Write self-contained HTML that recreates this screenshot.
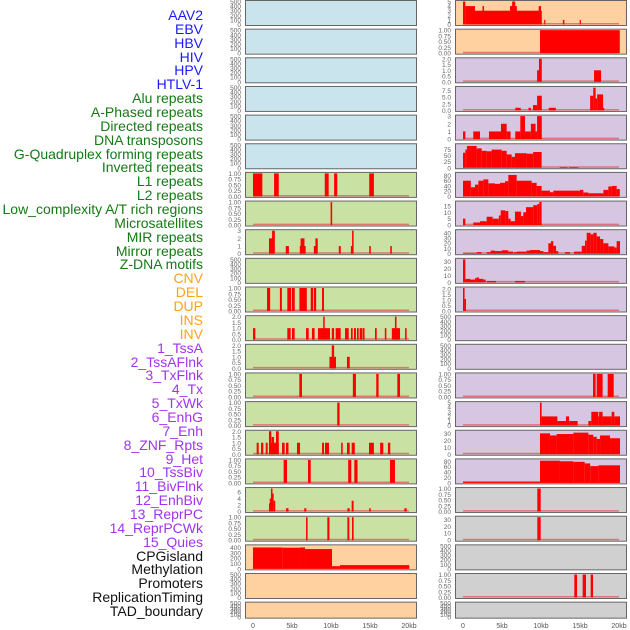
<!DOCTYPE html>
<html><head><meta charset="utf-8">
<style>
html,body{margin:0;padding:0;background:#fff;}
#wrap{position:relative;width:630px;height:630px;overflow:hidden;font-family:"Liberation Sans",sans-serif;}
.lbl{position:absolute;right:427px;font-size:14px;line-height:14px;white-space:nowrap;}
svg{position:absolute;left:0;top:0;}
</style></head>
<body>
<div id="wrap">
<div id="labels"></div>
<svg id="chart" width="630" height="630"></svg>
</div>
<script>
const trackNames = ["AAV2","EBV","HBV","HIV","HPV","HTLV-1","Alu repeats","A-Phased repeats","Directed repeats","DNA transposons","G-Quadruplex forming repeats","Inverted repeats","L1 repeats","L2 repeats","Low_complexity A/T rich regions","Microsatellites","MIR repeats","Mirror repeats","Z-DNA motifs","CNV","DEL","DUP","INS","INV","1_TssA","2_TssAFlnk","3_TxFlnk","4_Tx","5_TxWk","6_EnhG","7_Enh","8_ZNF_Rpts","9_Het","10_TssBiv","11_BivFlnk","12_EnhBiv","13_ReprPC","14_ReprPCWk","15_Quies","CPGisland","Methylation","Promoters","ReplicationTiming","TAD_boundary"];
const trackGroupSizes = [6,13,5,15,5];
const groupColors = ["#1a1aff","#147a14","#ffa21a","#a033f0","#111111"];

const xTicks = [0,5,10,15,20];
const xTickLabels = ["0","5kb","10kb","15kb","20kb"];

const tEmpty = [0,100,200,300,400,500];
const tUnit = [0,0.25,0.5,0.75,1];
const tTwo = [0,0.5,1,1.5,2];

// Left column bars [startKb, endKb, value]
const barsL6 = [[0,1.2,1],[2.7,3.3,1],[9.2,9.7,1],[10.4,10.8,1],[14.9,15.5,1]];
const barsL7 = [[9.95,10.15,1]];
const barsL8 = [[2.05,2.5,2],[2.45,2.8,3],[4.2,4.6,1],[6.0,6.3,1],[6.1,6.6,2],[6.6,6.75,1],[7.8,8.1,1],[8.0,8.3,2],[11.0,11.25,1],[12.55,12.75,1],[12.7,12.9,3],[14.9,15.1,1],[17.6,17.8,1]];
const barsL10 = [[1.8,2.2,1],[3.45,3.7,1],[4.4,4.9,1],[5.0,5.35,1],[5.95,6.9,1],[7.4,7.7,1],[7.8,8.1,1],[8.85,9.1,1]];
const barsL11 = [[0,0.3,1],[4.4,4.83,1],[5.0,5.34,1],[6.8,7.14,1],[7.56,7.9,1],[8.33,9.87,1],[9.0,9.19,2],[10.1,10.4,1],[10.6,11.24,1],[11.8,12.27,1],[12.56,12.78,1],[12.95,13.2,1],[13.33,13.55,1],[13.68,14.0,1],[14.06,14.3,1],[15.64,15.86,1],[16.9,17.1,1],[17.8,18.85,1],[18.2,18.4,2],[19.5,19.7,1]];
const barsL12 = [[9.8,10.64,1],[10.1,10.4,2],[12.05,12.4,1]];
const barsL13 = [[5.94,6.28,1],[12.8,13.2,1],[15.8,16.1,1],[18.5,18.85,1]];
const barsL14 = [[10.8,11.1,1]];
const barsL15 = [[0.47,0.73,1],[1.03,1.32,1],[1.63,1.88,1],[2.05,3.3,1],[2.05,2.35,2],[2.39,2.69,1.5],[2.95,3.3,2],[3.72,4.06,1],[4.23,4.55,1],[5.64,6.03,1],[8.85,9.1,1],[9.23,9.74,1],[11.3,11.5,1],[12.05,12.4,1],[12.65,13.05,1],[14.87,15.5,1],[16.3,16.7,1],[17.3,17.6,1]];
const barsL16 = [[3.93,4.36,1],[7.05,7.4,1],[12.2,12.6,1],[12.99,13.4,1],[17.56,18.2,1]];
const barsL17 = [[2.05,2.2,2.5],[2.15,2.3,4],[2.3,2.5,7],[2.45,2.65,5.5],[2.65,2.85,3.3],[4.23,4.55,1],[6.57,6.84,1],[12.1,12.4,1],[12.65,12.9,3.3],[14.9,15.1,1],[19.4,19.7,1]];
const barsL18 = [[6.8,7.0,1],[9.53,9.8,1],[12.1,12.35,1],[12.69,12.9,1]];
const barsL19 = [[0,3.8,400],[3.8,6.03,395],[6.03,6.67,400],[6.67,10.13,370],[10.13,11.15,50],[11.15,20.04,70]];

// Right column bars
const barsR0 = [[0,0.3,5],[0.3,1.54,4],[1.54,10.1,3],[2.5,2.7,4],[6.03,6.9,4],[6.3,6.7,5],[9.7,10.0,4],[10.4,10.55,1],[12.8,13.0,1],[14.96,15.1,1]];
const barsR1 = [[9.87,20.1,1]];
const barsR2 = [[9.5,9.74,1],[9.74,10.1,2],[16.8,17.7,1]];
const barsR3 = [[6.7,7.4,1],[8.4,8.7,1],[8.97,9.5,2],[9.5,10.1,5.5],[11.0,11.9,1],[16.3,16.7,5.5],[16.7,17.0,8.5],[17.0,17.2,4.5],[17.2,17.96,6],[17.96,18.1,1]];
const barsR4 = [[0,0.3,1],[1.32,2.18,1],[3.33,4.87,1],[4.87,5.6,2],[5.6,6.1,1],[6.7,7.35,1],[7.35,7.95,3],[7.95,8.7,1],[8.7,9.3,2],[9.3,9.5,1],[9.5,10.1,3]];
const barsR5 = [[0,0.3,62],[0.3,0.5,75],[0.5,1.75,90],[1.75,2.4,80],[2.4,3.03,70],[3.03,3.67,68],[3.67,4.96,75],[4.96,5.6,70],[5.6,6.24,55],[6.24,6.66,45],[6.66,8.16,60],[8.16,9.0,58],[9.0,10.08,65],[12.4,13.4,3],[13.6,14.8,3]];
const barsR6 = [[0,1.0,60],[1.0,1.54,35],[1.54,1.97,45],[1.97,2.6,60],[2.6,3.25,65],[3.25,4.1,50],[4.1,4.74,48],[4.74,5.38,52],[5.38,5.81,58],[5.81,6.88,82],[6.88,8.8,60],[8.8,9.44,52],[9.44,10.08,40],[10.08,11.15,22],[11.15,11.58,16],[11.58,15.0,22],[15.0,15.43,25],[15.43,16.07,15],[16.07,18.0,12],[18.0,18.63,25],[18.63,19.06,38],[19.06,19.7,40],[19.7,20.1,28]];
const barsR7 = [[0,0.3,5],[1.32,2.18,2],[2.18,3.03,3],[3.03,3.8,6.5],[3.8,4.6,5],[4.6,4.83,7.5],[4.83,5.43,11.5],[5.43,5.81,11],[5.81,6.1,5],[6.1,6.66,3],[6.66,7.43,10.5],[7.43,7.73,7],[7.73,8.08,10],[8.08,9.0,14],[9.0,9.53,15.5],[9.53,9.79,16.5],[9.79,10.08,18]];
const barsR8 = [[0,1.75,1],[1.75,2.39,3],[3.04,3.55,3],[3.55,4.1,6],[4.1,4.96,5],[4.96,5.81,6.5],[5.81,6.45,4],[6.54,6.88,3],[6.88,8.16,4],[8.16,8.59,6],[8.59,9.87,7],[9.87,10.3,5],[10.3,10.94,3],[10.94,11.28,20],[11.28,11.58,24],[11.58,11.93,15],[11.93,12.22,5],[13.08,13.72,3],[14.23,15.22,4],[15.22,15.64,15],[15.64,15.86,25],[15.86,16.37,40],[16.37,16.71,37],[16.71,17.14,40],[17.14,17.57,33],[17.57,17.99,28],[17.99,18.64,20],[18.64,19.4,14],[19.4,19.7,12],[19.7,20.13,24]];
const barsR9 = [[0,0.3,33],[0.3,0.9,5],[0.9,1.54,4],[1.54,1.75,6],[1.75,2.05,7],[2.05,2.6,5],[2.6,2.9,4],[3.04,4.23,2],[6.67,7.95,2]];
const barsR10 = [[0,0.2,2.1],[0.2,0.38,1.1]];
const barsR13 = [[16.67,17.0,1],[17.14,17.9,1],[18.55,19.32,1]];
const barsR14 = [[9.87,10.08,5],[10.08,12.1,2],[12.1,13.2,1],[13.2,13.6,2],[13.6,14.7,1],[16.07,16.45,1],[16.45,17.35,3],[17.35,17.9,2],[17.45,17.9,3],[17.9,19.06,2],[19.06,19.4,3],[19.4,20.13,2]];
const barsR15 = [[9.87,11.15,30],[11.15,12.0,27],[12.0,14.15,29],[14.15,16.07,31],[16.07,16.7,28],[16.7,17.14,25],[17.14,17.57,22],[17.57,18.85,27],[18.85,20.13,23]];
const barsR16 = [[0,9.87,5],[9.87,12.43,82],[12.43,14.15,80],[14.15,15.6,78],[15.6,16.3,72],[16.3,17.35,62],[17.35,20.13,65]];
const barsR17 = [[9.53,9.96,1]];
const barsR18 = [[9.53,9.96,33]];
const barsR20 = [[14.27,14.62,1],[15.34,15.77,1],[16.37,16.67,1]];

const C = {blue:"#c9e4ec",green:"#c9e1a3",orange:"#ffd1a1",purple:"#d6c6e1",grey:"#d0d0d0"};
// [bg, maxValue, ticks, decimals, bars]
const leftPanels = [
 [C.blue,500,tEmpty,0,[]],[C.blue,500,tEmpty,0,[]],[C.blue,500,tEmpty,0,[]],[C.blue,500,tEmpty,0,[]],[C.blue,500,tEmpty,0,[]],[C.blue,500,tEmpty,0,[]],
 [C.green,1,tUnit,2,barsL6],[C.green,1,tUnit,2,barsL7],[C.green,3,[0,1,2,3],0,barsL8],[C.green,500,tEmpty,0,[]],
 [C.green,1,tUnit,2,barsL10],[C.green,2,tTwo,1,barsL11],[C.green,2,tTwo,1,barsL12],[C.green,1,tUnit,2,barsL13],[C.green,1,tUnit,2,barsL14],
 [C.green,2,tTwo,1,barsL15],[C.green,1,tUnit,2,barsL16],[C.green,7,[0,2,4,6],0,barsL17],[C.green,1,tUnit,2,barsL18],
 [C.orange,430,[0,100,200,300,400],0,barsL19],[C.orange,500,tEmpty,0,[]],[C.orange,500,tEmpty,0,[]]
];
const rightPanels = [
 [C.orange,5,[0,1,2,3,4,5],0,barsR0],[C.orange,1,tUnit,2,barsR1],
 [C.purple,2,tTwo,1,barsR2],[C.purple,8.6,[0,2.5,5,7.5],1,barsR3],[C.purple,3,[0,1,2,3],0,barsR4],
 [C.purple,95,[0,25,50,75],0,barsR5],[C.purple,88,[0,20,40,60,80],0,barsR6],[C.purple,18,[0,5,10,15],0,barsR7],
 [C.purple,44,[0,10,20,30,40],0,barsR8],[C.purple,33,[0,10,20,30],0,barsR9],[C.purple,2.1,tTwo,1,barsR10],
 [C.purple,500,tEmpty,0,[]],[C.purple,500,tEmpty,0,[]],[C.purple,1,tUnit,2,barsR13],[C.purple,5,[0,1,2,3,4,5],0,barsR14],
 [C.purple,33,[0,10,20,30],0,barsR15],[C.purple,85,[0,20,40,60,80],0,barsR16],
 [C.grey,1,tUnit,2,barsR17],[C.grey,33,[0,10,20,30],0,barsR18],[C.grey,500,tEmpty,0,[]],[C.grey,1,tUnit,2,barsR20],[C.grey,500,tEmpty,0,[]]
];

const NS = "http://www.w3.org/2000/svg";
const svg = document.getElementById("chart");
function mk(tag, attrs, parent){
  const e = document.createElementNS(NS, tag);
  for (const k in attrs) e.setAttribute(k, attrs[k]);
  (parent||svg).appendChild(e);
  return e;
}
// labels
const labelBox = document.getElementById("labels");
let gi = 0, gc = 0;
trackNames.forEach((n, i) => {
  const d = document.createElement("div");
  d.className = "lbl";
  d.textContent = n;
  d.style.top = (15 + i * 13.86 - 7) + "px";
  d.style.color = groupColors[gi];
  
  
  labelBox.appendChild(d);
  gc++; if (gc >= trackGroupSizes[gi]) { gi++; gc = 0; }
});

function drawColumn(panels, left, side){
  const x0 = left + 8, pxPerKb = 7.8;
  const xs = kb => x0 + kb * pxPerKb;
  panels.forEach((p, i) => {
    const [bg, maxV, ticks, dec, bars] = p;
    const top = i * 28.65, h = (i === 21) ? 16 : 25;
    const g = mk("g", {});
    
    
    const r = mk("rect", {x:left+0.5, y:top+0.5, width:171, height:h, fill:bg, stroke:"#666", "stroke-width":1}, g);
    
    
    const yb = top + h - 0.5, yt = top + 1.5;
    const ys = v => yb - (v / maxV) * (yb - yt);
    if (bars.length) {
      const bl = mk("line", {x1:xs(0), x2:xs(20), y1:yb-0.7, y2:yb-0.7, stroke:"#e06060", "stroke-width":1.5, opacity:0.8}, g);
      
      
    }
    bars.forEach(b => {
      const x = xs(b[0]), w = Math.max(1.2, xs(b[1]) - xs(b[0]));
      const rr = mk("rect", {x:x, y:ys(b[2]), width:w, height:yb - ys(b[2]), fill:"#ff0000"}, g);
      
      
    });
    ticks.forEach(t => {
      const tx = mk("text", {x:left - 4, y:ys(t) + 2.5, "text-anchor":"end", "font-size":6.5, fill:"#666", "font-family":"Liberation Sans, sans-serif"}, g);
      tx.textContent = t.toFixed(dec);
      
      
    });
  });
  xTicks.forEach((t, k) => {
    const tx = mk("text", {x:xs(t), y:628, "text-anchor":"middle", "font-size":7, fill:"#555", "font-family":"Liberation Sans, sans-serif"});
    tx.textContent = xTickLabels[k];
    
    
  });
}
drawColumn(leftPanels, 245, "left");
drawColumn(rightPanels, 455, "right");
</script>
</body></html>
